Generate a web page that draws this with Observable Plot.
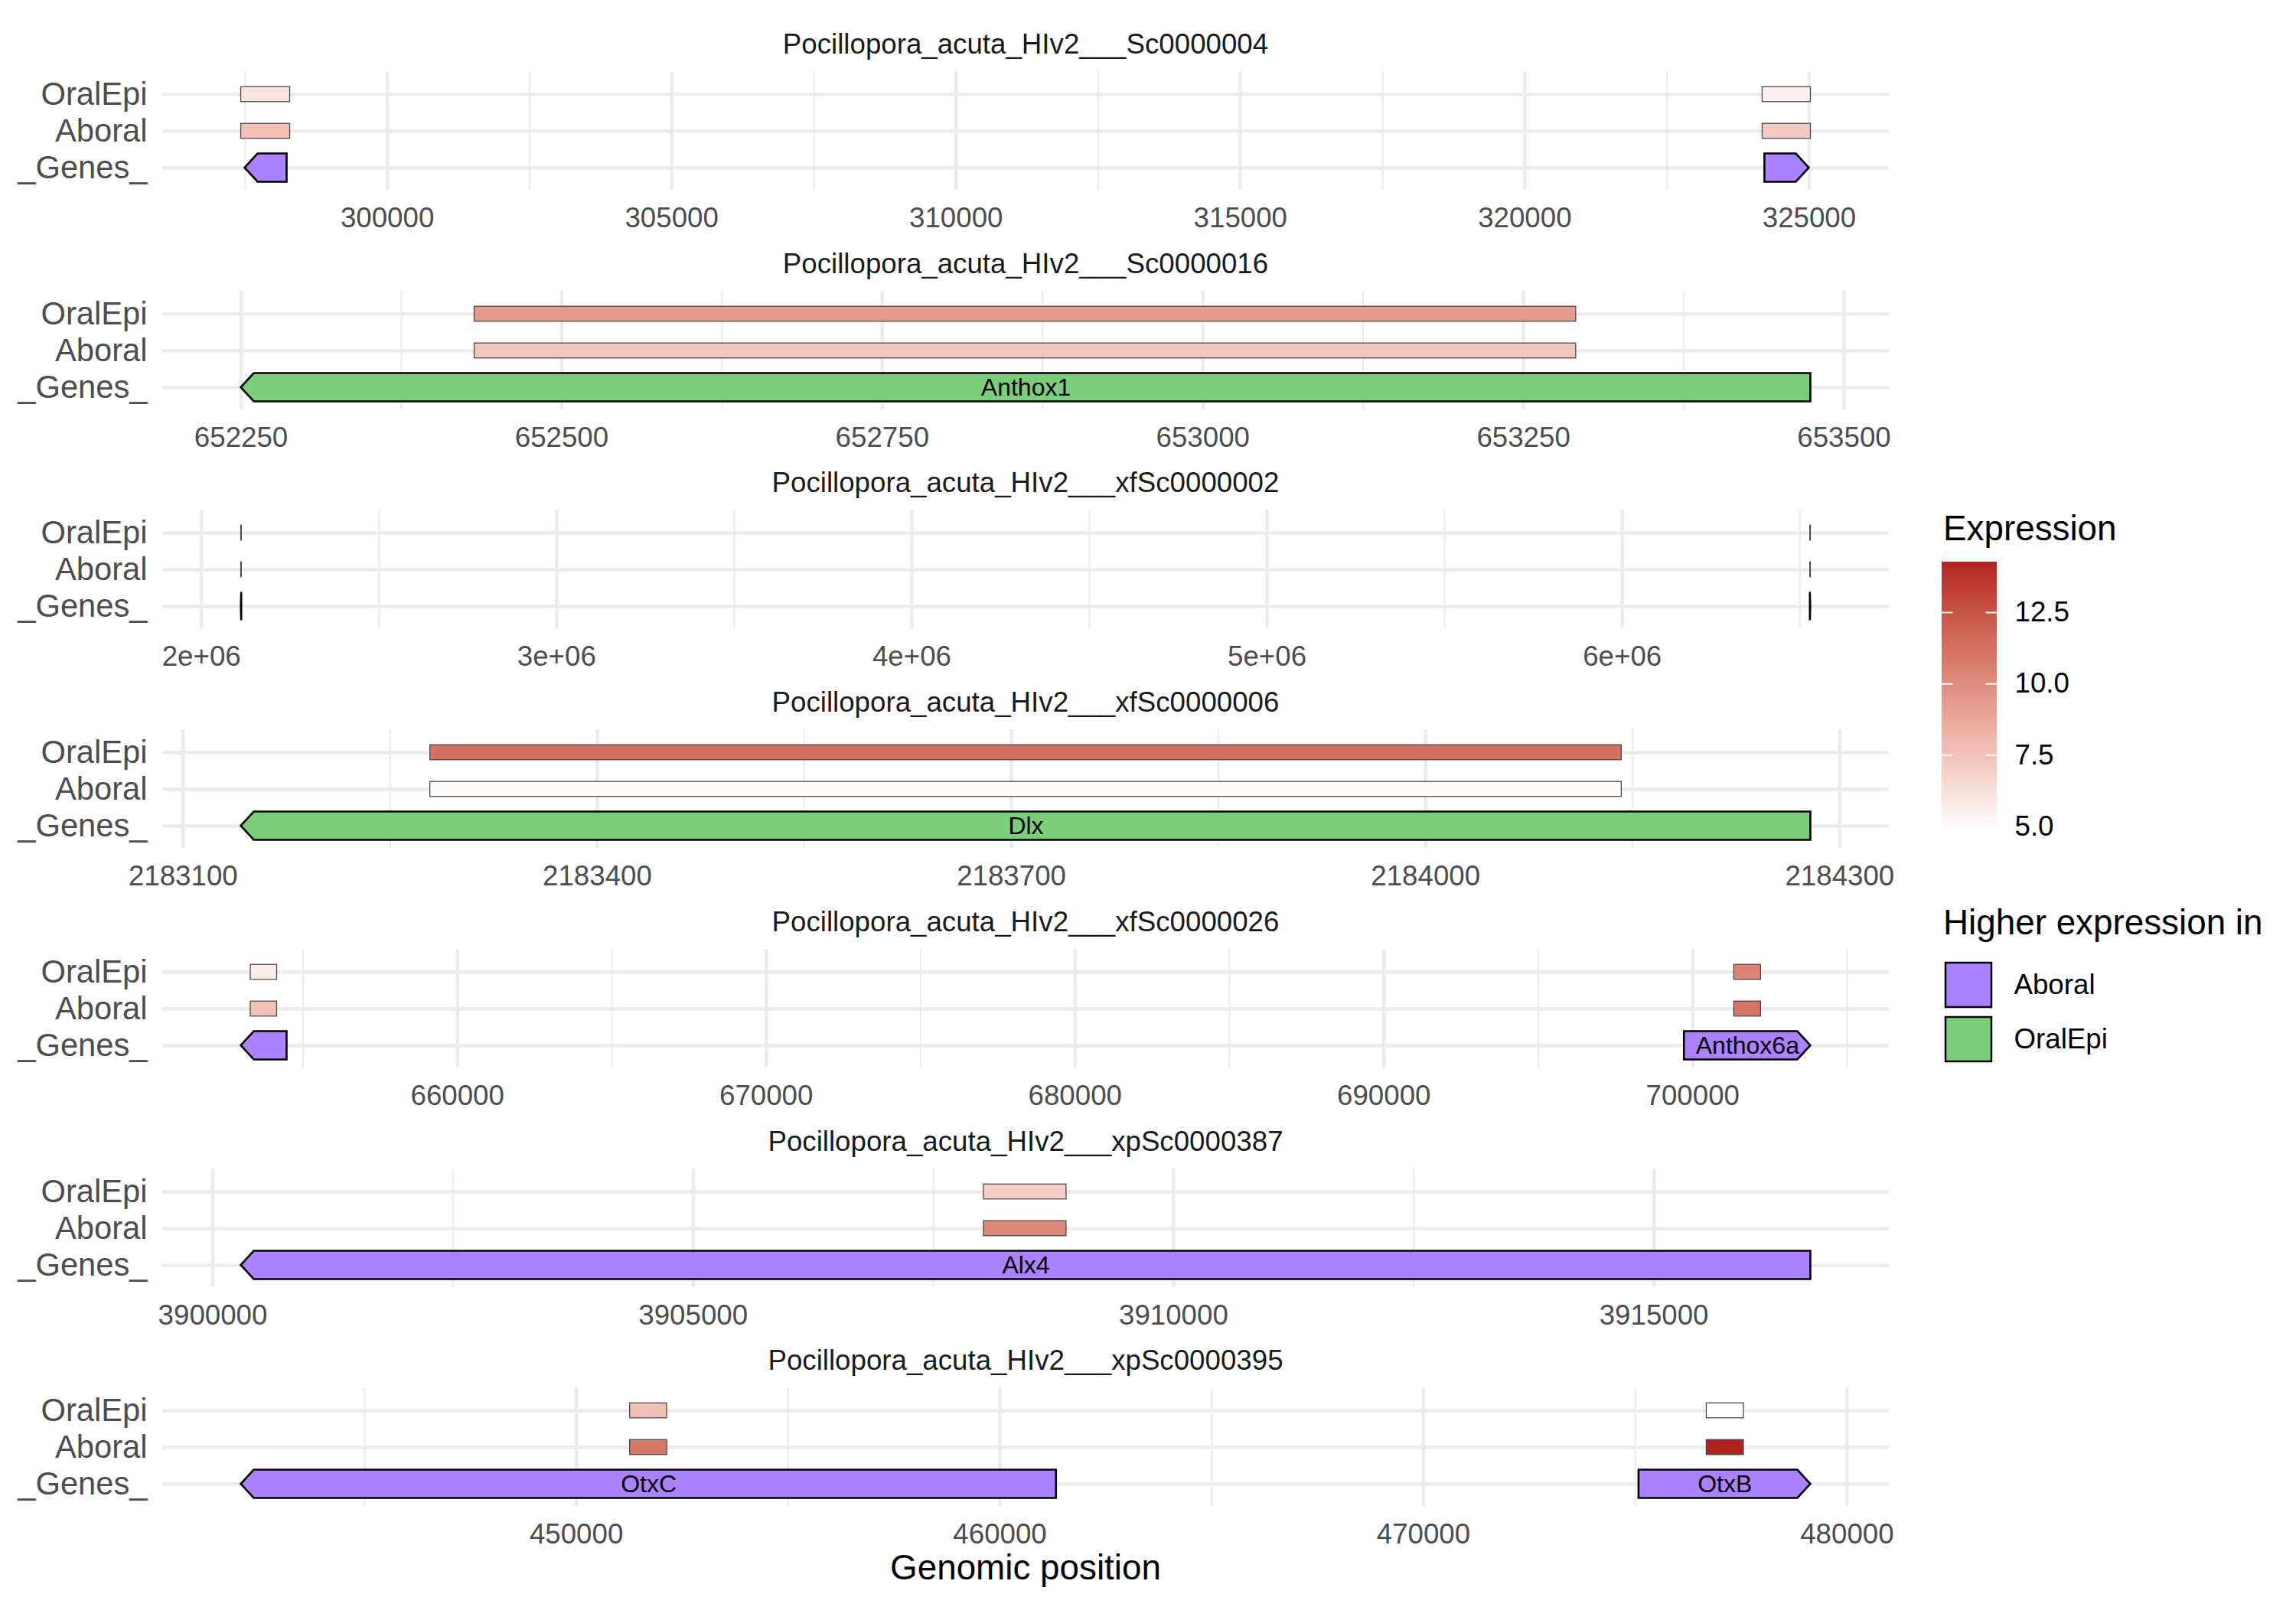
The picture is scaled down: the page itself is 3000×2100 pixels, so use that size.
<!DOCTYPE html>
<html>
<head>
<meta charset="utf-8">
<script src="https://cdn.jsdelivr.net/npm/d3@7"></script>
<script src="https://cdn.jsdelivr.net/npm/@observablehq/plot@0.6"></script>
<style>
  html, body { margin: 0; padding: 0; background: white; }
  #root { position: relative; width: 3000px; height: 2100px; background: white; font-family: "Liberation Sans", Arial, sans-serif; }
  .abs { position: absolute; white-space: nowrap; line-height: 1; }
</style>
</head>
<body>
<div id="root"></div>
<script>
// ---------------- DATA ----------------
const contigNames = [
  "Pocillopora_acuta_HIv2___Sc0000004",
  "Pocillopora_acuta_HIv2___Sc0000016",
  "Pocillopora_acuta_HIv2___xfSc0000002",
  "Pocillopora_acuta_HIv2___xfSc0000006",
  "Pocillopora_acuta_HIv2___xfSc0000026",
  "Pocillopora_acuta_HIv2___xpSc0000387",
  "Pocillopora_acuta_HIv2___xpSc0000395"
];
const xTickValues = [
  [300000, 305000, 310000, 315000, 320000, 325000],
  [652250, 652500, 652750, 653000, 653250, 653500],
  [2000000, 3000000, 4000000, 5000000, 6000000],
  [2183100, 2183400, 2183700, 2184000, 2184300],
  [660000, 670000, 680000, 690000, 700000],
  [3900000, 3905000, 3910000, 3915000],
  [450000, 460000, 470000, 480000]
];
const xTickLabels = [
  ["300000", "305000", "310000", "315000", "320000", "325000"],
  ["652250", "652500", "652750", "653000", "653250", "653500"],
  ["2e+06", "3e+06", "4e+06", "5e+06", "6e+06"],
  ["2183100", "2183400", "2183700", "2184000", "2184300"],
  ["660000", "670000", "680000", "690000", "700000"],
  ["3900000", "3905000", "3910000", "3915000"],
  ["450000", "460000", "470000", "480000"]
];
const rowNames = ["OralEpi", "Aboral", "_Genes_"];

// genes (gene track)
const geneContig = [0, 0, 1, 2, 2, 3, 4, 4, 5, 6, 6];
const geneStart  = [297496, 324219, 652250, 2111900, 6529200, 2183142, 652995, 699727, 3900295, 442084, 475086];
const geneEnd    = [298236, 325000, 653474, 2113100, 6530400, 2184279, 654480, 703821, 3916632, 461332, 479143];
const geneStrand = ["-", "+", "-", "-", "+", "-", "-", "+", "-", "-", "+"];
const geneHigher = ["Aboral", "Aboral", "OralEpi", "Aboral", "Aboral", "OralEpi", "Aboral", "Aboral", "Aboral", "Aboral", "Aboral"];
const geneLabel  = ["", "", "Anthox1", "", "", "Dlx", "", "Anthox6a", "Alx4", "OtxC", "OtxB"];

// expression tiles
const exprContig = [0, 0, 0, 0, 1, 1, 2, 2, 2, 2, 3, 3, 4, 4, 4, 4, 5, 5, 6, 6, 6, 6];
const exprSample = ["OralEpi", "Aboral", "OralEpi", "Aboral", "OralEpi", "Aboral", "OralEpi", "Aboral", "OralEpi", "Aboral",
                    "OralEpi", "Aboral", "OralEpi", "Aboral", "OralEpi", "Aboral", "OralEpi", "Aboral", "OralEpi", "Aboral", "OralEpi", "Aboral"];
const exprStart  = [297429, 297429, 324179, 324179, 652432, 652432, 2111700, 2111700, 6529000, 6529000,
                    2183279, 2183279, 653304, 653304, 701340, 701340, 3908025, 3908025, 451265, 451265, 476685, 476685];
const exprEnd    = [298290, 298290, 325027, 325027, 653291, 653291, 2113300, 2113300, 6530600, 6530600,
                    2184142, 2184142, 654158, 654158, 702208, 702208, 3908885, 3908885, 452142, 452142, 477562, 477562];
const exprValue  = [6.0, 7.65, 5.5, 7.15, 9.4, 7.4, 6.2, 6.8, 6.5, 7.0,
                    11.3, 4.95, 5.65, 7.65, 10.4, 11.1, 7.0, 10.2, 7.7, 10.9, 4.8, 14.27];

const higherCats = ["Aboral", "OralEpi"];
const higherColors = ["#AB82FF", "#7CCD7C"];
const legendTicks = [5.0, 7.5, 10.0, 12.5];

// ---------------- LAYOUT / STYLE ----------------
const FONT = '"Liberation Sans", Arial, sans-serif';
const root = document.getElementById("root");
const W = 2500, H = 287, ML = 212, MR = 32, MT = 93, MB = 39;
const PERIOD = 286.7;
const grid = "#EBEBEB";
const fillOf = new Map(higherCats.map((c, i) => [c, higherColors[i]]));

const exprMin = d3.min(exprValue), exprMax = d3.max(exprValue);
const colorOpts = {type: "linear", domain: [exprMin, exprMax], range: ["#FFFFFF", "#B22222"], interpolate: d3.interpolateLab};

const genes = geneContig.map((c, k) => ({contig: c, start: geneStart[k], end: geneEnd[k], strand: geneStrand[k], higher: geneHigher[k], label: geneLabel[k]}));
const exprs = exprContig.map((c, k) => ({contig: c, sample: exprSample[k], start: exprStart[k], end: exprEnd[k], value: exprValue[k]}));

function geneArrowMark(data) {
  return (index, scales) => {
    const g = d3.create("svg:g");
    const x = scales.x, y = scales.y;
    const yc = y("_Genes_") + (y.bandwidth ? y.bandwidth() / 2 : 0);
    const h2 = 18.5;
    for (const d of data) {
      const xs = x(d.start), xe = x(d.end);
      const head = Math.min(17, Math.abs(xe - xs));
      let pts;
      if (d.strand === "+") pts = [[xs, yc - h2], [xe - head, yc - h2], [xe, yc], [xe - head, yc + h2], [xs, yc + h2]];
      else pts = [[xe, yc - h2], [xs + head, yc - h2], [xs, yc], [xs + head, yc + h2], [xe, yc + h2]];
      g.append("path")
        .attr("d", "M" + pts.map(p => p.join(",")).join("L") + "Z")
        .attr("fill", fillOf.get(d.higher))
        .attr("stroke", "black")
        .attr("stroke-width", 2.6)
        .attr("stroke-linejoin", "miter");
    }
    return g.node();
  };
}

function addAbs(el, left, top) {
  el.style.position = "absolute";
  el.style.left = left + "px";
  el.style.top = top + "px";
  root.appendChild(el);
}
function addText(txt, left, top, size, color, center) {
  const d = document.createElement("div");
  d.className = "abs";
  d.textContent = txt;
  d.style.fontSize = size + "px";
  d.style.color = color;
  d.style.top = top + "px";
  if (center) { d.style.left = (left - 1000) + "px"; d.style.width = "2000px"; d.style.textAlign = "center"; }
  else d.style.left = left + "px";
  root.appendChild(d);
}

for (let i = 0; i < contigNames.length; i++) {
  const G = genes.filter(d => d.contig === i);
  const E = exprs.filter(d => d.contig === i);
  const xs = [...G.flatMap(d => [d.start, d.end]), ...E.flatMap(d => [d.start, d.end])];
  const lo = d3.min(xs), hi = d3.max(xs), pad = (hi - lo) * 0.05;
  const ticks = xTickValues[i];
  const labelMap = new Map(ticks.map((t, k) => [t, xTickLabels[i][k]]));
  const step = ticks[1] - ticks[0];
  const minor = [];
  for (let v = ticks[0] - step / 2; v <= hi + pad; v += step) if (v >= lo - pad) minor.push(v);

  const bandStep = (H - MT - MB) / 3.2;
  const inset = (bandStep - 20) / 2;

  const svg = Plot.plot({
    width: W, height: H,
    marginLeft: ML, marginRight: MR, marginTop: MT, marginBottom: MB,
    style: {fontFamily: FONT, color: "#4D4D4D", background: "transparent", overflow: "visible"},
    x: {domain: [lo - pad, hi + pad], axis: null},
    y: {type: "band", domain: rowNames, paddingInner: 0, paddingOuter: 0.1, axis: null},
    color: colorOpts,
    marks: [
      Plot.gridY({stroke: grid, strokeOpacity: 1, strokeWidth: 4.4}),
      Plot.ruleX(minor, {stroke: grid, strokeOpacity: 1, strokeWidth: 2.2}),
      Plot.ruleX(ticks, {stroke: grid, strokeOpacity: 1, strokeWidth: 4.4}),
      Plot.barX(E, {x1: "start", x2: "end", y: "sample", fill: "value", stroke: "#4A4A4A", strokeWidth: 1.3, insetTop: inset, insetBottom: inset}),
      geneArrowMark(G),
      Plot.text(G.filter(d => d.label), {x: d => (d.start + d.end) / 2, y: () => "_Genes_", text: "label", fontSize: 32, fill: "black"}),
      Plot.axisX(ticks, {tickSize: 0, tickPadding: 22, fontSize: 36.7, tickFormat: d => labelMap.get(d), label: null}),
      Plot.axisY({tickSize: 0, tickPadding: 20, fontSize: 41.7, label: null})
    ]
  });
  addAbs(svg, 0, Math.round(i * PERIOD));
  addText(contigNames[i], ML + (W - ML - MR) / 2, Math.round(i * PERIOD) + 40, 36.7, "#1A1A1A", true);
}

// x-axis title
addText("Genomic position", ML + (W - ML - MR) / 2, 2026, 45.8, "#000000", true);

// ---------------- LEGENDS ----------------
addText("Expression", 2539, 668, 45.8, "#000000", false);
const BAR_H = 353, BAR_W = 72;
const nSteps = BAR_H;
const dv = (exprMax - exprMin) / nSteps;
const steps = d3.range(nSteps).map(k => exprMin + k * dv);
const bar = Plot.plot({
  width: BAR_W + 160, height: BAR_H,
  marginLeft: 0, marginRight: 160, marginTop: 0, marginBottom: 0,
  style: {fontFamily: FONT, color: "#000000", background: "transparent", overflow: "visible"},
  x: {domain: [0, 1], axis: null},
  y: {domain: [exprMin, exprMax], axis: null},
  color: colorOpts,
  marks: [
    Plot.rect(steps, {x1: 0, x2: 1, y1: d => d, y2: d => d + dv * 1.05, fill: d => d + dv / 2, shapeRendering: "crispEdges"}),
    Plot.ruleY(legendTicks, {x1: 0, x2: 0.2, stroke: "white", strokeWidth: 2}),
    Plot.ruleY(legendTicks, {x1: 0.8, x2: 1, stroke: "white", strokeWidth: 2}),
    Plot.axisY(legendTicks, {anchor: "right", tickSize: 0, tickPadding: 23, fontSize: 36.7, tickFormat: d => d.toFixed(1), label: null})
  ]
});
addAbs(bar, 2537, 734);

addText("Higher expression in", 2539, 1183, 45.8, "#000000", false);
const keys = Plot.plot({
  width: 400, height: 137,
  marginLeft: 3, marginRight: 337, marginTop: 3, marginBottom: 3,
  style: {fontFamily: FONT, color: "#000000", background: "transparent", overflow: "visible"},
  x: {domain: [0, 1], axis: null},
  y: {type: "band", domain: higherCats, paddingInner: 0.18, paddingOuter: 0, axis: null},
  marks: [
    Plot.barX(higherCats, {x1: 0, x2: 1, y: d => d, fill: d => fillOf.get(d), stroke: "black", strokeWidth: 2.5}),
    Plot.text(higherCats, {x: 1, y: d => d, text: d => d, dx: 29, textAnchor: "start", fontSize: 36.7, fill: "black"})
  ]
});
addAbs(keys, 2539, 1254);
</script>
</body>
</html>
